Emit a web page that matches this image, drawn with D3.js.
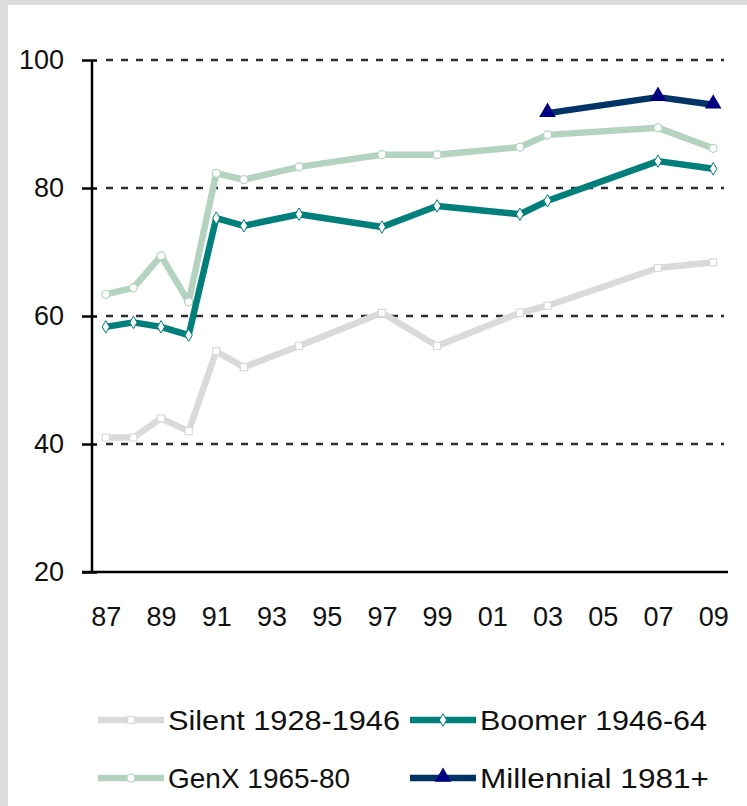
<!DOCTYPE html>
<html>
<head>
<meta charset="utf-8">
<title>Generations</title>
<script src="https://cdn.jsdelivr.net/npm/d3@7"></script>
<style>
  * { margin: 0; padding: 0; }
  body { background: #fff; }
  text { font-family: "Liberation Sans", Arial, sans-serif; fill: #111; }
</style>
</head>
<body>
<div id="chart"></div>
<script>
// all years on the axis, labels on odd years only
var years = ["87","88","89","90","91","92","93","94","95","96","97","98","99","00","01","02","03","04","05","06","07","08","09"];
var tickYears = ["87","89","91","93","95","97","99","01","03","05","07","09"];
var yTicks = [20, 40, 60, 80, 100];

// survey years
var surveyYears = ["87","88","89","90","91","92","94","97","99","02","03","07","09"];
var silent = [41, 41, 44, 42, 54.5, 52, 55.3, 60.5, 55.3, 60.5, 61.6, 67.5, 68.4];
var boomer = [58.3, 59, 58.3, 57, 75.3, 74.1, 75.9, 73.9, 77.2, 75.9, 78, 84.2, 83];
var genx   = [63.4, 64.4, 69.4, 62.2, 82.3, 81.3, 83.3, 85.2, 85.2, 86.4, 88.3, 89.4, 86.2];
var millYears = ["03","07","09"];
var millennial = [91.7, 94.2, 93];

var W = 747, H = 806;
var svg = d3.select("#chart").append("svg").attr("width", W).attr("height", H);

// grey frame at top/left
svg.append("rect").attr("width", W).attr("height", H).attr("fill", "#dcdcdc");
svg.append("rect").attr("x", 8).attr("y", 5).attr("width", W - 8).attr("height", H - 5).attr("fill", "#fff");

var x = d3.scalePoint().domain(years).range([92, 727]).padding(0.5);
var y = d3.scaleLinear().domain([20, 100]).range([572, 60]);

// dashed grid
svg.selectAll(".grid").data(yTicks.filter(function(d){ return d > 20; })).enter()
  .append("line")
  .attr("x1", 106).attr("x2", 724)
  .attr("y1", function(d){ return y(d); }).attr("y2", function(d){ return y(d); })
  .attr("stroke", "#2e2e2e").attr("stroke-width", 2.5).attr("stroke-dasharray", "7,8");

// y axis
var yAxis = svg.append("g").attr("transform", "translate(92,0)")
  .call(d3.axisLeft(y).tickValues(yTicks).tickSize(10).tickPadding(18));
yAxis.select(".domain").attr("stroke", "#000").attr("stroke-width", 2.5).attr("d", "M0,60V572");
yAxis.selectAll(".tick line").attr("stroke", "#000").attr("stroke-width", 2.5).attr("x2", -10).attr("x1", 5);
yAxis.selectAll(".tick text").attr("font-size", 27).attr("font-family", "Liberation Sans, Arial").attr("fill", "#111");

// x axis
var xAxis = svg.append("g").attr("transform", "translate(0,572)")
  .call(d3.axisBottom(x).tickValues(tickYears).tickSize(0).tickPadding(35));
xAxis.select(".domain").attr("stroke", "#000").attr("stroke-width", 2.5).attr("d", "M82,0H728");
xAxis.selectAll(".tick text").attr("font-size", 27).attr("font-family", "Liberation Sans, Arial").attr("fill", "#111");

var series = [
  { name: "Silent 1928-1946", yrs: surveyYears, vals: silent, color: "#dadada", marker: "square" },
  { name: "GenX 1965-80", yrs: surveyYears, vals: genx, color: "#b3d3c0", marker: "circle" },
  { name: "Boomer 1946-64", yrs: surveyYears, vals: boomer, color: "#007f7b", marker: "diamond" },
  { name: "Millennial 1981+", yrs: millYears, vals: millennial, color: "#003366", marker: "triangle" }
];

var line = d3.line().x(function(d){ return x(d[0]); }).y(function(d){ return y(d[1]); });

function drawMarker(g, type, color, cx, cy) {
  if (type === "square") {
    g.append("rect").attr("x", cx - 3.5).attr("y", cy - 3.5).attr("width", 7).attr("height", 7)
      .attr("fill", "#fff").attr("stroke", color).attr("stroke-width", 1.2);
  } else if (type === "circle") {
    g.append("circle").attr("cx", cx).attr("cy", cy).attr("r", 4)
      .attr("fill", "#fff").attr("stroke", color).attr("stroke-width", 1.2);
  } else if (type === "diamond") {
    g.append("path").attr("d", d3.symbol().type(d3.symbolDiamond).size(45)())
      .attr("transform", "translate(" + cx + "," + cy + ")")
      .attr("fill", "#fff").attr("stroke", color).attr("stroke-width", 1);
  } else {
    g.append("path").attr("d", d3.symbol().type(d3.symbolTriangle).size(120)())
      .attr("transform", "translate(" + cx + "," + (cy - 1) + ")")
      .attr("fill", "#000080");
  }
}

series.forEach(function(s){
  var pts = s.yrs.map(function(yr, i){ return [yr, s.vals[i]]; });
  var g = svg.append("g");
  g.append("path").datum(pts).attr("d", line)
    .attr("fill", "none").attr("stroke", s.color).attr("stroke-width", 6.5)
    .attr("stroke-linejoin", "round");
  pts.forEach(function(p){ drawMarker(g, s.marker, s.color, x(p[0]), y(p[1])); });
});

// legend
var legend = [
  { s: series[0], lx: 98, ly: 720, w: 232 },
  { s: series[2], lx: 410, ly: 720, w: 227 },
  { s: series[1], lx: 98, ly: 778, w: 182 },
  { s: series[3], lx: 410, ly: 778, w: 229 }
];
legend.forEach(function(l){
  var g = svg.append("g");
  g.append("line").attr("x1", l.lx).attr("x2", l.lx + 66).attr("y1", l.ly).attr("y2", l.ly)
    .attr("stroke", l.s.color).attr("stroke-width", 6.5);
  drawMarker(g, l.s.marker, l.s.color, l.lx + 33, l.ly);
  g.append("text").attr("x", l.lx + 70).attr("y", l.ly + 10)
    .attr("font-size", 28).attr("textLength", l.w).attr("lengthAdjust", "spacingAndGlyphs")
    .text(l.s.name);
});
</script>
</body>
</html>
